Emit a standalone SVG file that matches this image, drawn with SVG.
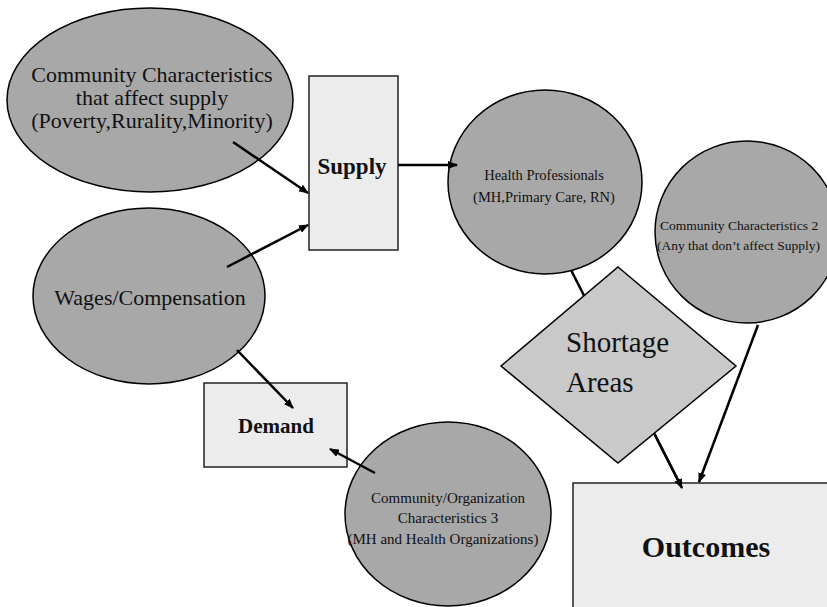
<svg xmlns="http://www.w3.org/2000/svg" width="827" height="607" viewBox="0 0 827 607">
<defs>
<style>
.ell{fill:#a8a8a8;stroke:#000;stroke-width:1.5}
.box{fill:#ececec;stroke:#222;stroke-width:1.5}
.dia{fill:#c9c9c9;stroke:#000;stroke-width:1.5}
.t{font-family:"Liberation Serif","Times New Roman",serif;fill:#111}
.b{font-weight:bold}
.c{stroke:#000;stroke-width:2.5;fill:none}
</style>
<marker id="ah" markerWidth="10" markerHeight="8" refX="9" refY="4" orient="auto" markerUnits="userSpaceOnUse">
<path d="M0,0 L10,4 L0,8 Z" fill="#000"/>
</marker>
</defs>
<rect width="827" height="607" fill="#fff"/>

<g id="connectors-back">
<line class="c" x1="543" y1="215" x2="682" y2="488" marker-end="url(#ah)"/>
</g>

<g id="n-community1">
<ellipse class="ell" cx="150" cy="100" rx="143" ry="92"/>
<text class="t" x="152" y="82" font-size="22" text-anchor="middle">Community Characteristics</text>
<text class="t" x="152" y="105" font-size="22" text-anchor="middle">that affect supply</text>
<text class="t" x="152" y="128" font-size="22" text-anchor="middle">(Poverty,Rurality,Minority)</text>
</g>

<g id="n-supply">
<rect class="box" x="309" y="76" width="89" height="174"/>
<text class="t b" x="352" y="174" font-size="23" text-anchor="middle">Supply</text>
</g>

<g id="n-health">
<ellipse class="ell" cx="545" cy="182" rx="97" ry="92"/>
<text class="t" x="544" y="180" font-size="14.5" text-anchor="middle">Health Professionals</text>
<text class="t" x="544" y="202" font-size="14.5" text-anchor="middle">(MH,Primary Care, RN)</text>
</g>

<g id="n-community2">
<ellipse class="ell" cx="747" cy="232" rx="92" ry="91"/>
<text class="t" x="660" y="230" font-size="13.5">Community Characteristics 2</text>
<text class="t" x="657" y="250" font-size="13.5">(Any that don’t affect Supply)</text>
</g>

<g id="n-shortage">
<polygon class="dia" points="618,267 736,366 618,463 501,366"/>
<text class="t" x="566" y="352" font-size="29">Shortage</text>
<text class="t" x="566" y="392" font-size="29">Areas</text>
</g>

<g id="n-wages">
<ellipse class="ell" cx="149" cy="296" rx="116" ry="88"/>
<text class="t" x="150" y="305" font-size="22" text-anchor="middle">Wages/Compensation</text>
</g>

<g id="n-demand">
<rect class="box" x="204" y="383" width="143" height="84"/>
<text class="t b" x="276" y="433" font-size="21" text-anchor="middle">Demand</text>
</g>

<g id="n-community3">
<ellipse class="ell" cx="448" cy="514" rx="103" ry="92"/>
<text class="t" x="448" y="503" font-size="15" text-anchor="middle">Community/Organization</text>
<text class="t" x="448" y="523" font-size="15" text-anchor="middle">Characteristics 3</text>
<text class="t" x="443" y="544" font-size="15" text-anchor="middle">(MH and Health Organizations)</text>
</g>

<g id="n-outcomes">
<rect class="box" x="573" y="483" width="270" height="140"/>
<text class="t b" x="706" y="557" font-size="30" text-anchor="middle">Outcomes</text>
</g>

<g id="connectors">
<line class="c" x1="233" y1="142" x2="308" y2="193" marker-end="url(#ah)"/>
<line class="c" x1="227" y1="267" x2="308" y2="225" marker-end="url(#ah)"/>
<line class="c" x1="398" y1="165" x2="457" y2="165" marker-end="url(#ah)"/>
<line class="c" x1="237" y1="350" x2="293" y2="408" marker-end="url(#ah)"/>
<line class="c" x1="375" y1="473" x2="330" y2="449" marker-end="url(#ah)"/>
<line class="c" x1="758" y1="325" x2="699" y2="482" marker-end="url(#ah)"/>
<line class="c" x1="655" y1="435" x2="682" y2="488" marker-end="url(#ah)"/>
</g>
</svg>
